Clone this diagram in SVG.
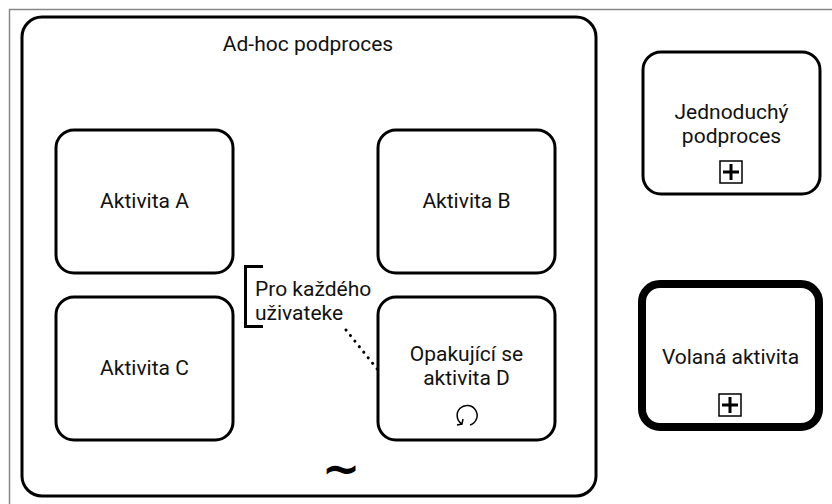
<svg xmlns="http://www.w3.org/2000/svg" width="832" height="504" viewBox="0 0 832 504">
  <style>
    .frame { fill: none; stroke: #888; stroke-width: 1.5; }
    .task { fill: #fff; stroke: #000; stroke-width: 3; }
    .call { fill: #fff; stroke: #000; stroke-width: 8; }
    .lbl { font-family: Roboto, "Liberation Sans", sans-serif; font-size: 21px; fill: #111; text-anchor: middle; }
    .note { font-family: Roboto, "Liberation Sans", sans-serif; font-size: 21px; fill: #111; }
    .mk { fill: #fff; stroke: #000; stroke-width: 1.5; }
    .plus { stroke: #000; stroke-width: 3; }
  </style>

  <rect width="832" height="504" fill="#fff"/>
  <!-- diagram frame -->
  <rect class="frame" x="9.5" y="9.5" width="840" height="520"/>

  <!-- ad-hoc sub-process -->
  <g id="adhoc">
    <rect class="task" x="22" y="17" width="574" height="479" rx="20"/>
    <text class="lbl" x="308" y="51" font-size="22">Ad-hoc podproces</text>
    <text x="341" y="484" font-family="'DejaVu Sans', sans-serif" font-size="46" font-weight="bold" text-anchor="middle">~</text>
  </g>

  <g id="aktivitaA">
    <rect class="task" x="56" y="130" width="177" height="143" rx="18"/>
    <text class="lbl" x="144.5" y="208">Aktivita A</text>
  </g>

  <g id="aktivitaB">
    <rect class="task" x="378" y="130" width="177" height="143" rx="18"/>
    <text class="lbl" x="466.5" y="208">Aktivita B</text>
  </g>

  <g id="aktivitaC">
    <rect class="task" x="56" y="297" width="177" height="143" rx="18"/>
    <text class="lbl" x="144.5" y="375">Aktivita C</text>
  </g>

  <g id="aktivitaD">
    <rect class="task" x="378" y="297" width="177" height="143" rx="18"/>
    <text class="lbl" x="466.5" y="361">Opakující se</text>
    <text class="lbl" x="466.5" y="385">aktivita D</text>
    <!-- loop marker -->
    <path d="M462 424 A10 10 0 1 1 470 425" fill="none" stroke="#000" stroke-width="1.5"/>
    <path d="M457 425 L462 424 L463 419" fill="none" stroke="#000" stroke-width="1.5"/>
  </g>

  <g id="jednoduchy">
    <rect class="task" x="643" y="52" width="177" height="142" rx="18"/>
    <text class="lbl" x="731.5" y="119">Jednoduchý</text>
    <text class="lbl" x="731.5" y="143">podproces</text>
    <rect class="mk" x="720" y="161" width="22" height="22"/>
    <path class="plus" d="M723 172 H739 M731 164 V180"/>
  </g>

  <g id="volana">
    <rect class="call" x="642" y="284" width="177" height="143" rx="18"/>
    <text class="lbl" x="730.5" y="364">Volaná aktivita</text>
    <rect class="mk" x="719" y="394" width="22" height="22"/>
    <path class="plus" d="M722 405 H738 M730 397 V413"/>
  </g>

  <!-- annotation -->
  <g id="anotace">
    <path d="M263 266.5 H245.5 V326.5 H263" fill="none" stroke="#000" stroke-width="3"/>
    <text class="note" x="255" y="296">Pro každého</text>
    <text class="note" x="255" y="320">uživateke</text>
  </g>

  <!-- association -->
  <g id="spojnice">
    <line x1="346" y1="330" x2="378" y2="370" stroke="#000" stroke-width="3" stroke-dasharray="0.1 7" stroke-linecap="round"/>
  </g>
</svg>
